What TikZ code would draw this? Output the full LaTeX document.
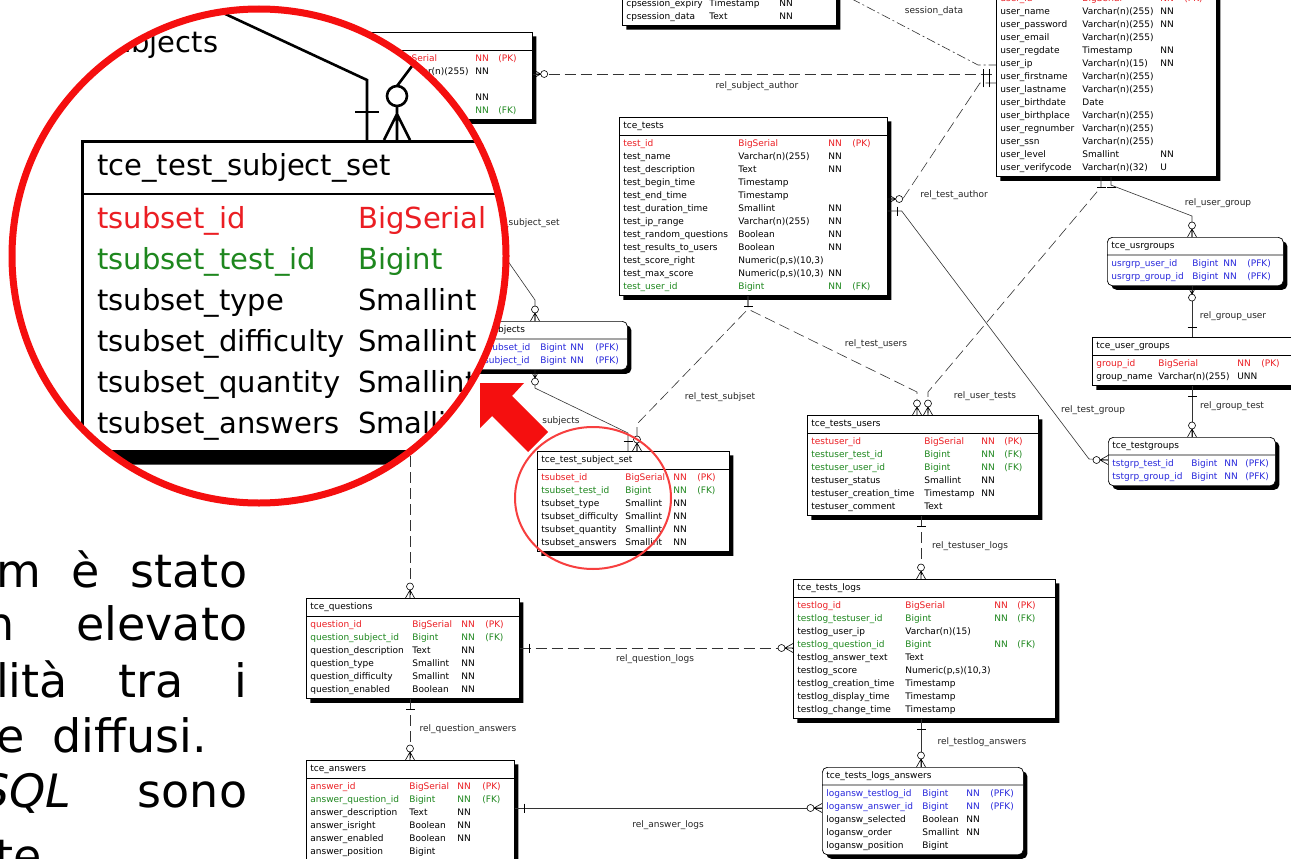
\documentclass[tikz,border=0pt]{standalone}
\usepackage{fontspec}
\setmainfont{DejaVu Sans}
\usetikzlibrary{shapes.multipart,shadows}
\definecolor{pkc}{RGB}{235,30,35}
\definecolor{fkc}{RGB}{30,135,30}
\definecolor{pfkc}{RGB}{40,40,220}
\definecolor{ringred}{RGB}{245,15,15}
\hyphenpenalty=10000
\setlength{\tabcolsep}{0pt}
\def\pk#1#2{\textcolor{pkc}{#1}&\textcolor{pkc}{#2}&\textcolor{pkc}{NN}&\textcolor{pkc}{(PK)}\\}
\def\fk#1#2{\textcolor{fkc}{#1}&\textcolor{fkc}{#2}&\textcolor{fkc}{NN}&\textcolor{fkc}{(FK)}\\}
\def\pfk#1#2{\textcolor{pfkc}{#1}&\textcolor{pfkc}{#2}&\textcolor{pfkc}{NN}&\textcolor{pfkc}{(PFK)}\\}
\def\fld#1#2#3{#1&#2&#3&\\}
\def\tbl#1#2#3#4#5{\node [#2] (#1) {\strut #3\nodepart{two}\begin{tabular}{#4}#5\end{tabular}};}
\def\crowfoot#1#2{\begin{scope}[shift={(#1)},rotate=#2]
  \draw [endmk] (0,-4.5) -- (8,0) -- (0,4.5) (0,0) -- (8,0);
  \draw [endmk,fill=white] (11.5,0) circle (3.5pt);
\end{scope}}
\def\onebar#1#2{\begin{scope}[shift={(#1)},rotate=#2]
  \draw [endmk] (10,-4.5) -- (10,4.5);
\end{scope}}
\def\twobar#1#2{\begin{scope}[shift={(#1)},rotate=#2]
  \draw [endmk] (7,-4.5) -- (7,4.5) (13,-4.5) -- (13,4.5);
\end{scope}}
\tikzset{
  tblbase/.style={rectangle split,rectangle split parts=2,draw,fill=white,
    anchor=north west,align=left},
  tbl/.style={tblbase,line width=0.7pt,inner xsep=4pt,inner ysep=2pt,
    font=\fontsize{9}{13}\selectfont,
    drop shadow={shadow xshift=4pt,shadow yshift=-4pt,opacity=1,fill=black}},
  wk/.style={tbl,rounded corners=5pt},
  mag/.style={tblbase,line width=2.6pt,inner xsep=15pt,inner ysep=4.5pt,
    font=\fontsize{29}{41}\selectfont,
    drop shadow={shadow xshift=13pt,shadow yshift=-13pt,opacity=1,fill=black}},
  conn/.style={line width=0.6pt,draw=black!80},
  nid/.style={conn,dash pattern=on 11pt off 5pt},
  sdl/.style={conn,dash pattern=on 9pt off 3pt on 2pt off 3pt},
  endmk/.style={line width=0.6pt,draw=black},
  lbl/.style={font=\fontsize{9}{11}\selectfont,text=black!85,inner sep=0pt},
  mconn/.style={line width=2.6pt,draw=black},
  para/.style={font=\fontsize{46}{55}\selectfont,inner sep=0pt,anchor=base west},
  ring/.style={draw=ringred,line width=7pt},
  hilite/.style={draw=ringred!80,line width=2pt}
}
\begin{document}
\begin{tikzpicture}[x=1pt,y=-1pt]
\useasboundingbox (0,0) rectangle (1291,859);
\fill [white] (0,0) rectangle (1291,859);
\clip (0,0) rectangle (1291,859);

\tbl{ses}{tbl,at={(622,-23)},text width=206pt}{}{p{83pt}p{70pt}p{24pt}l}{%
\fld{cpsession\_expiry}{Timestamp}{NN}
\fld{cpsession\_data}{Text}{NN}}
\tbl{usr}{tbl,at={(996,-28)},text width=212pt}{}{p{82pt}p{78pt}p{24pt}l}{%
\pk{user\_id}{BigSerial}
\fld{user\_name}{Varchar(n)(255)}{NN}
\fld{user\_password}{Varchar(n)(255)}{NN}
\fld{user\_email}{Varchar(n)(255)}{}
\fld{user\_regdate}{Timestamp}{NN}
\fld{user\_ip}{Varchar(n)(15)}{NN}
\fld{user\_firstname}{Varchar(n)(255)}{}
\fld{user\_lastname}{Varchar(n)(255)}{}
\fld{user\_birthdate}{Date}{}
\fld{user\_birthplace}{Varchar(n)(255)}{}
\fld{user\_regnumber}{Varchar(n)(255)}{}
\fld{user\_ssn}{Varchar(n)(255)}{}
\fld{user\_level}{Smallint}{NN}
\fld{user\_verifycode}{Varchar(n)(32)}{U}}
\tbl{sub}{tbl,at={(291,32)},text width=233pt}{}{p{102pt}p{78pt}p{23pt}l}{%
\pk{}{BigSerial}
\fld{}{Varchar(n)(255)}{NN}
\fld{}{}{}
\fld{}{}{NN}
\fk{}{}}
\tbl{tst}{tbl,at={(619,117)},text width=260pt}{tce\_tests}{p{115pt}p{90pt}p{24pt}l}{%
\pk{test\_id}{BigSerial}
\fld{test\_name}{Varchar(n)(255)}{NN}
\fld{test\_description}{Text}{NN}
\fld{test\_begin\_time}{Timestamp}{}
\fld{test\_end\_time}{Timestamp}{}
\fld{test\_duration\_time}{Smallint}{NN}
\fld{test\_ip\_range}{Varchar(n)(255)}{NN}
\fld{test\_random\_questions}{Boolean}{NN}
\fld{test\_results\_to\_users}{Boolean}{NN}
\fld{test\_score\_right}{Numeric(p,s)(10,3)}{}
\fld{test\_max\_score}{Numeric(p,s)(10,3)}{NN}
\fk{test\_user\_id}{Bigint}}
\tbl{tsu}{tbl,at={(807,415)},text width=223pt}{tce\_tests\_users}{p{113pt}p{57pt}p{23pt}l}{%
\pk{testuser\_id}{BigSerial}
\fk{testuser\_test\_id}{Bigint}
\fk{testuser\_user\_id}{Bigint}
\fld{testuser\_status}{Smallint}{NN}
\fld{testuser\_creation\_time}{Timestamp}{NN}
\fld{testuser\_comment}{Text}{}}
\tbl{tlg}{tbl,at={(793,579)},text width=254pt}{tce\_tests\_logs}{p{108pt}p{89pt}p{23pt}l}{%
\pk{testlog\_id}{BigSerial}
\fk{testlog\_testuser\_id}{Bigint}
\fld{testlog\_user\_ip}{Varchar(n)(15)}{}
\fk{testlog\_question\_id}{Bigint}
\fld{testlog\_answer\_text}{Text}{}
\fld{testlog\_score}{Numeric(p,s)(10,3)}{}
\fld{testlog\_creation\_time}{Timestamp}{}
\fld{testlog\_display\_time}{Timestamp}{}
\fld{testlog\_change\_time}{Timestamp}{}}
\tbl{tla}{wk,at={(822,767)},text width=193pt}{tce\_tests\_logs\_answers}{p{96pt}p{44pt}p{24pt}l}{%
\pfk{logansw\_testlog\_id}{Bigint}
\pfk{logansw\_answer\_id}{Bigint}
\fld{logansw\_selected}{Boolean}{NN}
\fld{logansw\_order}{Smallint}{NN}
\fld{logansw\_position}{Bigint}{}}
\tbl{que}{tbl,at={(306,598)},text width=205pt}{tce\_questions}{p{102pt}p{49pt}p{24pt}l}{%
\pk{question\_id}{BigSerial}
\fk{question\_subject\_id}{Bigint}
\fld{question\_description}{Text}{NN}
\fld{question\_type}{Smallint}{NN}
\fld{question\_difficulty}{Smallint}{NN}
\fld{question\_enabled}{Boolean}{NN}}
\tbl{ans}{tbl,at={(306,760)},text width=200pt}{tce\_answers}{p{99pt}p{48pt}p{25pt}l}{%
\pk{answer\_id}{BigSerial}
\fk{answer\_question\_id}{Bigint}
\fld{answer\_description}{Text}{NN}
\fld{answer\_isright}{Boolean}{NN}
\fld{answer\_enabled}{Boolean}{NN}
\fld{answer\_position}{Bigint}{}}
\tbl{tss}{tbl,at={(537,451)},text width=184pt}{tce\_test\_subject\_set}{p{84pt}p{48pt}p{24pt}l}{%
\pk{tsubset\_id}{BigSerial}
\fk{tsubset\_test\_id}{Bigint}
\fld{tsubset\_type}{Smallint}{NN}
\fld{tsubset\_difficulty}{Smallint}{NN}
\fld{tsubset\_quantity}{Smallint}{NN}
\fld{tsubset\_answers}{Smallint}{NN}}
\tbl{ugr}{wk,at={(1107,237)},text width=168pt}{tce\_usrgroups}{p{81pt}p{31pt}p{24pt}l}{%
\pfk{usrgrp\_user\_id}{Bigint}
\pfk{usrgrp\_group\_id}{Bigint}}
\tbl{grp}{tbl,at={(1092,337)},text width=220pt}{tce\_user\_groups}{p{62pt}p{79pt}p{24pt}l}{%
\pk{group\_id}{BigSerial}
\fld{group\_name}{Varchar(n)(255)}{UNN}}
\tbl{tgr}{wk,at={(1108,437)},text width=159pt}{tce\_testgroups}{p{79pt}p{33pt}p{21pt}l}{%
\pfk{tstgrp\_test\_id}{Bigint}
\pfk{tstgrp\_group\_id}{Bigint}}
\tbl{tsj}{wk,at={(443,321)},text width=176pt}{tce\_test\_subjects}{p{93pt}p{30pt}p{25pt}l}{%
\pfk{subjset\_tsubset\_id}{Bigint}
\pfk{subjset\_subject\_id}{Bigint}}

\draw [sdl] (ses.east |- 0,-9) -- (978,65) -- (usr.west |- 0,65);
\draw [nid] (sub.east |- 0,74) -- (usr.west |- 0,74);
\draw [nid] (tst.east |- 0,199) -- ++(15,0) -- (980,83) -- (usr.west |- 0,83);
\draw [conn] (tst.east |- 0,211) -- ++(14,0) -- (1089,459) -- (tgr.west |- 0,460);
\draw [conn] (usr.south -| 1111,0) -- ++(0,8) -- (1192,216) -- (ugr.north -| 1192,0);
\draw [nid] (usr.south -| 1101,0) -- ++(0,10) -- (928,392) -- (tsu.north -| 928,0);
\draw [nid] (tst.south -| 748,0) -- ++(0,13) -- (917,392) -- (tsu.north -| 917,0);
\draw [nid] (tst.south -| 748,0) -- ++(0,13) -- (637,424) -- (tss.north -| 637,0);
\draw [conn] (tsj.south -| 535,0) -- ++(0,18) -- (628,433) -- (tss.north -| 628,0);
\draw [conn] (sub.south -| 440,0) -- (440,200) -- (505,257) -- (535,300) -- (tsj.north -| 535,0);
\draw [nid] (sub.south -| 410,0) -- (que.north -| 410,0);
\draw [nid] (que.south -| 410,0) -- (ans.north -| 410,0);
\draw [nid] (que.east |- 0,648) -- (tlg.west |- 0,648);
\draw [conn] (ans.east |- 0,808) -- (tla.west |- 0,808);
\draw [nid] (tsu.south -| 921,0) -- (tlg.north -| 921,0);
\draw [conn] (tlg.south -| 921,0) -- (tla.north -| 921,0);
\draw [conn] (grp.north -| 1192,0) -- (ugr.south -| 1192,0);
\draw [conn] (grp.south -| 1192,0) -- (tgr.north -| 1192,0);

\crowfoot{sub.east |- 0,74}{0}
\twobar{usr.west |- 0,74}{180}
\crowfoot{tst.east |- 0,199}{0}
\twobar{usr.west |- 0,83}{180}
\onebar{tst.east |- 0,211}{0}
\crowfoot{tgr.west |- 0,460}{180}
\onebar{usr.south -| 1111,0}{270}
\crowfoot{ugr.north -| 1192,0}{90}
\onebar{usr.south -| 1101,0}{270}
\crowfoot{tsu.north -| 928,0}{90}
\onebar{tst.south -| 748,0}{270}
\crowfoot{tsu.north -| 917,0}{90}
\crowfoot{tss.north -| 637,0}{90}
\crowfoot{tsj.south -| 535,0}{270}
\onebar{tss.north -| 628,0}{90}
\crowfoot{tsj.north -| 535,0}{90}
\crowfoot{que.north -| 410,0}{90}
\onebar{que.south -| 410,0}{270}
\crowfoot{ans.north -| 410,0}{90}
\onebar{que.east |- 0,648}{0}
\crowfoot{tlg.west |- 0,648}{180}
\onebar{ans.east |- 0,808}{0}
\crowfoot{tla.west |- 0,808}{180}
\onebar{tsu.south -| 921,0}{270}
\crowfoot{tlg.north -| 921,0}{90}
\onebar{tlg.south -| 921,0}{270}
\crowfoot{tla.north -| 921,0}{90}
\onebar{grp.north -| 1192,0}{90}
\crowfoot{ugr.south -| 1192,0}{270}
\onebar{grp.south -| 1192,0}{270}
\crowfoot{tgr.north -| 1192,0}{90}

\node [lbl] (lb1) at (934,11) {session\_data};
\node [lbl] (lb2) at (757,86) {rel\_subject\_author};
\node [lbl] (lb3) at (954,195) {rel\_test\_author};
\node [lbl] (lb4) at (1218,203) {rel\_user\_group};
\node [lbl] (lb5) at (1233,316) {rel\_group\_user};
\node [lbl] (lb6) at (1232,406) {rel\_group\_test};
\node [lbl] (lb7) at (1093,410) {rel\_test\_group};
\node [lbl] (lb8) at (985,396) {rel\_user\_tests};
\node [lbl] (lb9) at (876,344) {rel\_test\_users};
\node [lbl] (lb10) at (720,397) {rel\_test\_subjset};
\node [lbl] (lb11) at (561,421) {subjects};
\node [lbl] (lb12) at (970,546) {rel\_testuser\_logs};
\node [lbl] (lb13) at (655,659) {rel\_question\_logs};
\node [lbl] (lb14) at (468,729) {rel\_question\_answers};
\node [lbl] (lb15) at (982,742) {rel\_testlog\_answers};
\node [lbl] (lb16) at (668,825) {rel\_answer\_logs};
\node [lbl,anchor=west] (lb17) at (504,223) {\_subject\_set};

\begin{scope}
  \clip (259,256) circle (247pt);
  \fill [white] (259,256) circle (247pt);
  \tbl{mtss}{mag,at={(81,140)},text width=560pt}{tce\_test\_subject\_set}{p{261pt}l}{%
  \textcolor{pkc}{tsubset\_id}&\textcolor{pkc}{BigSerial}\\
  \textcolor{fkc}{tsubset\_test\_id}&\textcolor{fkc}{Bigint}\\
  tsubset\_type&Smallint\\
  tsubset\_difficulty&Smallint\\
  tsubset\_quantity&Smallint\\
  tsubset\_answers&Smallint\\}
  \coordinate (mfar) at (60,-63);
  \coordinate (mfar2) at (418,58);
  \draw [mconn] (mfar) -- (367,80) -- (mtss.north -| 367,0);
  \draw [mconn] (355,112) -- (379,112);
  \draw [mconn] (mfar2) -- (397,86);
  \draw [mconn] (397,96) circle (10pt);
  \draw [mconn] (397,106) -- (mtss.north -| 397,0)
    (mtss.north -| 384,0) -- (397,114) -- (mtss.north -| 410,0);
  \node [font=\fontsize{29}{35}\selectfont,inner sep=0pt] (mlb) at (158,45) {subjects};
\end{scope}
\draw [ring] (259,256) circle (247pt);
\draw [hilite] (593,498) ellipse [x radius=78pt,y radius=71pt];
\fill [ringred] (480,383) -- (524,383) -- (512,396) -- (548,432) -- (528,452)
  -- (492,416) -- (480,428) -- cycle;

\node [para] (p1) at (-4,587) {\makebox[251pt][s]{m è stato}};
\node [para] (p2) at (-15,640) {\makebox[262pt][s]{n elevato}};
\node [para] (p3) at (-4,697) {\makebox[251pt][s]{lità tra i}};
\node [para] (p4) at (-4,752) {e\hspace{28pt}diffusi.};
\node [para] (p5) at (-20,807) {\makebox[267pt][s]{\textit{SQL} sono}};
\node [para] (p6) at (-5,872) {te.};
\end{tikzpicture}
\end{document}
